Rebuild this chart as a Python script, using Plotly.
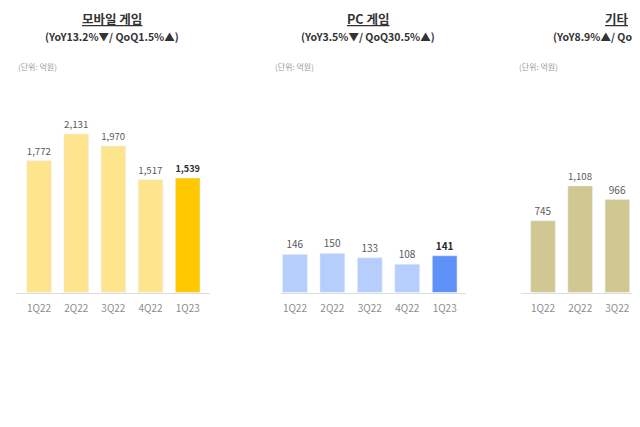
import plotly.graph_objects as go

quarters = ['1Q22', '2Q22', '3Q22', '4Q22', '1Q23']
mobile_values = [1772, 2131, 1970, 1517, 1539]
pc_values = [146, 150, 133, 108, 141]
other_values = [745, 1108, 966]
other_quarters = ['1Q22', '2Q22', '3Q22']

panel_titles = ['모바일 게임', 'PC 게임', '기타']
panel_subtitles = ['(YoY13.2%▼/ QoQ1.5%▲)', '(YoY3.5%▼/ QoQ30.5%▲)', '(YoY8.9%▲/ QoQ']
unit_label = '(단위: 억원)'

FONT = 'Noto Sans CJK KR'
W, H = 640, 427
OFF = 8  # the page body margin shifts the plot by this many pixels


def bar_labels(values, highlight_last):
    labels = [f'{v:,}' for v in values]
    if highlight_last:
        labels[-1] = f'<b>{labels[-1]}</b>'
    return labels


def label_colors(n, highlight_last):
    cols = ['#5a5a5a'] * n
    if highlight_last:
        cols[-1] = '#2b2b2b'
    return cols


def px_x(x):
    return (x - OFF) / W


def px_y(y):
    return 1 - (y - OFF) / H


fig = go.Figure()

fig.add_trace(go.Bar(
    x=quarters, y=mobile_values, xaxis='x', yaxis='y',
    marker_color=['#FFE48E'] * 4 + ['#FFC800'],
    text=bar_labels(mobile_values, True), textposition='outside',
    textfont=dict(size=10, color=label_colors(5, True), family=FONT),
    cliponaxis=False, hoverinfo='skip',
))
fig.add_trace(go.Bar(
    x=quarters, y=pc_values, xaxis='x2', yaxis='y2',
    marker_color=['#B5CEFB'] * 4 + ['#5E92F8'],
    text=bar_labels(pc_values, True), textposition='outside',
    textfont=dict(size=10, color=label_colors(5, True), family=FONT),
    cliponaxis=False, hoverinfo='skip',
))
fig.add_trace(go.Bar(
    x=other_quarters, y=other_values, xaxis='x3', yaxis='y3',
    marker_color='#D0C793',
    text=bar_labels(other_values, False), textposition='outside',
    textfont=dict(size=10, color='#5a5a5a', family=FONT),
    cliponaxis=False, hoverinfo='skip',
))

xaxis_style = dict(
    type='category', showline=True, linecolor='#dcdcdc', linewidth=1,
    showgrid=False, zeroline=False, ticks='', ticklabelstandoff=6,
    tickfont=dict(size=10, color='#8c8c8c', family=FONT), fixedrange=True,
)
yaxis_style = dict(visible=False, showgrid=False, zeroline=False,
                   domain=[px_y(292.5), px_y(100)])

fig.update_layout(
    width=W, height=H,
    margin=dict(l=0, r=0, t=0, b=0),
    paper_bgcolor='white', plot_bgcolor='white',
    showlegend=False, bargap=0.34,
    font=dict(family=FONT),
    xaxis=dict(xaxis_style, domain=[px_x(16), px_x(210)], range=[-0.62, 4.6], anchor='y'),
    xaxis2=dict(xaxis_style, domain=[px_x(280.7), px_x(466)], range=[-0.38, 4.57], anchor='y2'),
    xaxis3=dict(xaxis_style, domain=[px_x(520.7), 1.0], range=[-0.6, 2.825], anchor='y3'),
    yaxis=dict(yaxis_style, range=[0, 2589], anchor='x'),
    yaxis2=dict(yaxis_style, range=[0, 739], anchor='x2'),
    yaxis3=dict(yaxis_style, range=[0, 2002], anchor='x3'),
)

# panel headers in reference pixels: title centre x, subtitle x, subtitle anchor, unit label x
headers = [
    (112, 112, 'center', 16),
    (368, 368, 'center', 273),
    (617, 552, 'left', 517),
]
for (tx, sx, sanchor, ux), title, sub in zip(headers, panel_titles, panel_subtitles):
    fig.add_annotation(x=px_x(tx), y=1.0, xref='paper', yref='paper',
                       text=f'<u><b>{title}</b></u>', showarrow=False,
                       xanchor='center', yanchor='top', borderpad=0,
                       font=dict(size=12.5, color='#333333', family=FONT))
    fig.add_annotation(x=px_x(sx), y=px_y(37), xref='paper', yref='paper',
                       text=f'<b>{sub}</b>', showarrow=False,
                       xanchor=sanchor, yanchor='middle', borderpad=0,
                       font=dict(size=10.5, color='#333333', family=FONT))
    fig.add_annotation(x=px_x(ux), y=px_y(66), xref='paper', yref='paper',
                       text=unit_label, showarrow=False,
                       xanchor='left', yanchor='middle',
                       font=dict(size=8, color='#9a9a9a', family=FONT))

fig.write_html("out.html")
